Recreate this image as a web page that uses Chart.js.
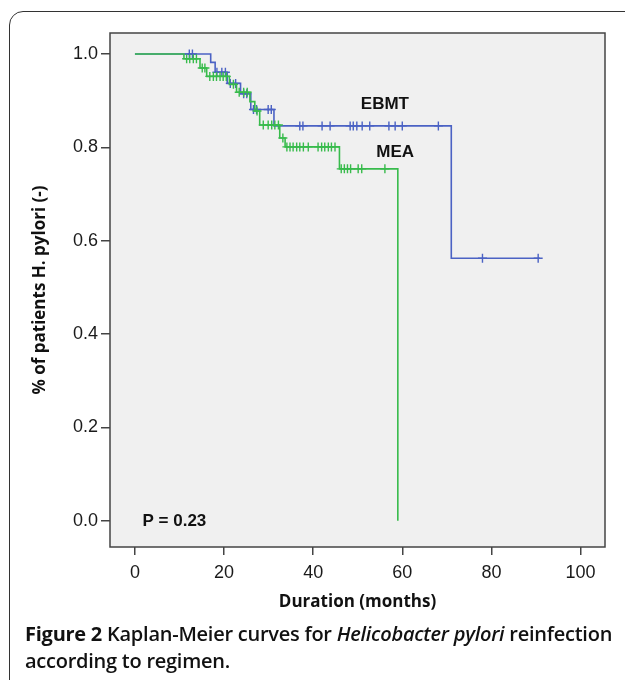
<!DOCTYPE html>
<html>
<head>
<meta charset="utf-8">
<script src="https://cdn.jsdelivr.net/npm/chart.js@4"></script>
<style>
  html, body { margin: 0; padding: 0; background: #fff; }
  body { width: 625px; height: 680px; position: relative; overflow: hidden; }
  #frame {
    position: absolute; left: 9px; top: 11px; width: 640px; height: 700px;
    border: 1.6px solid #333; border-radius: 14px; box-sizing: border-box;
  }
  #wrap { position: absolute; left: 0; top: 0; width: 625px; height: 625px; }
  #cap {
    position: absolute; left: 25px; top: 620px;
    font-family: "Open Sans", sans-serif; font-size: 20px; line-height: 27px;
    letter-spacing: -0.25px; font-weight: 600; color: #111; white-space: nowrap;
  }
  #cap b { font-weight: 700; }
</style>
</head>
<body>
<div id="frame"></div>
<div id="wrap"><canvas id="km"></canvas></div>
<div id="cap"><b>Figure 2</b> Kaplan-Meier curves for <i>Helicobacter pylori</i> reinfection<br>according to regimen.</div>
<script>
  // step points: time (months) where survival changes, and value after the step
  const ebmtTimes = [0, 17, 18, 20.7, 23.7, 26, 31.2, 71, 90.9];
  const ebmtSurv = [1.0, 0.982, 0.961, 0.937, 0.915, 0.881, 0.846, 0.5625, 0.5625];
  const ebmtCensored = [12.2, 12.9, 18.4, 19.5, 20.3, 21.4, 22.6, 24.4, 25.1, 26.6, 27.3,
    29.9, 30.6, 37, 37.7, 42, 43.8, 48.3, 49, 49.8, 51, 52.7, 57, 58.4, 60, 68.1, 78, 90.5];

  const meaTimes = [0, 11, 14.6, 16.1, 21.2, 22.8, 25.8, 26.9, 28, 32.5, 33.7, 45.9, 59];
  const meaSurv = [1.0, 0.99, 0.97, 0.952, 0.935, 0.918, 0.898, 0.878, 0.848, 0.82, 0.801, 0.754, 0];
  const meaCensored = [11.6, 12.3, 13.1, 13.8, 15.1, 15.7, 16.8, 17.6, 18.3, 19.1, 19.8, 20.5,
    22.1, 23.4, 24.4, 25.2, 27.4, 28.8, 29.9, 30.7, 31.4, 32.2, 33.2, 34.1, 34.8, 35.5, 36.3,
    37, 37.8, 38.9, 41.1, 41.9, 42.6, 43.4, 44.1, 44.9, 46.3, 47, 47.7, 48.4, 50.1, 50.9, 56.1];

  const xTicks = [0, 20, 40, 60, 80, 100];
  const yTicks = [0, 0.2, 0.4, 0.6, 0.8, 1.0];
  const pValue = 'P = 0.23';

  const BLUE = '#4b62c4';
  const GREEN = '#38bb4c';
  const AXIS = '#444';
  const SANS = '"Liberation Sans", Arial, sans-serif';

  function curve(times, surv) {
    return times.map((t, i) => ({ x: t, y: surv[i] }));
  }

  // survival value at time t (for placing censor marks on the curve)
  function stepAt(times, surv, t) {
    let v = surv[0];
    for (let i = 0; i < times.length; i++) {
      if (times[i] <= t) v = surv[i];
    }
    return v;
  }

  function censors(list, times, surv) {
    return list.map(t => ({ x: t, y: stepAt(times, surv, t) }));
  }

  const lineDefaults = { showLine: true, stepped: true, pointRadius: 0, borderWidth: 1.6, fill: false };
  const markDefaults = { showLine: false, pointStyle: 'cross', pointRadius: 4.5, borderWidth: 1.4 };

  const frame = {
    id: 'frame',
    beforeDraw(chart) {
      const a = chart.chartArea, ctx = chart.ctx;
      ctx.save();
      ctx.fillStyle = '#f0f0f0';
      ctx.fillRect(a.left, a.top, a.right - a.left, a.bottom - a.top);
      ctx.restore();
    },
    afterDraw(chart) {
      const a = chart.chartArea, ctx = chart.ctx;
      const x = chart.scales.x, y = chart.scales.y;
      ctx.save();
      ctx.strokeStyle = AXIS;
      ctx.lineWidth = 1.5;
      ctx.strokeRect(a.left, a.top, a.right - a.left, a.bottom - a.top);

      ctx.fillStyle = '#111';
      ctx.font = 'bold 17px ' + SANS;
      ctx.textBaseline = 'middle';
      ctx.textAlign = 'center';
      ctx.fillText('EBMT', x.getPixelForValue(56.1), y.getPixelForValue(0.893));
      ctx.fillText('MEA', x.getPixelForValue(58.4), y.getPixelForValue(0.79));
      ctx.textAlign = 'left';
      ctx.fillText(pValue, x.getPixelForValue(1.7), y.getPixelForValue(0));
      ctx.restore();
    }
  };

  new Chart(document.getElementById('km'), {
    type: 'scatter',
    data: {
      datasets: [
        Object.assign({ label: 'MEA censored', data: censors(meaCensored, meaTimes, meaSurv), borderColor: GREEN }, markDefaults),
        Object.assign({ label: 'MEA', data: curve(meaTimes, meaSurv), borderColor: GREEN }, lineDefaults),
        Object.assign({ label: 'EBMT censored', data: censors(ebmtCensored, ebmtTimes, ebmtSurv), borderColor: BLUE }, markDefaults),
        Object.assign({ label: 'EBMT', data: curve(ebmtTimes, ebmtSurv), borderColor: BLUE }, lineDefaults)
      ]
    },
    options: {
      responsive: true,
      maintainAspectRatio: false,
      animation: false,
      layout: { padding: { left: 0, top: 33, right: 20, bottom: 0 } },
      plugins: { legend: { display: false }, tooltip: { enabled: false } },
      scales: {
        x: {
          type: 'linear',
          min: -5.6,
          max: 105.5,
          afterBuildTicks: (s) => { s.ticks = xTicks.map(v => ({ value: v })); },
          afterFit: (s) => { s.height = 78; },
          grid: { drawOnChartArea: false, drawTicks: true, tickLength: 8, color: AXIS, lineWidth: 1.5 },
          border: { display: false },
          ticks: {
            padding: 7,
            color: '#1a1a1a',
            font: { family: SANS, size: 18 },
            maxRotation: 0
          },
          title: {
            display: true,
            text: 'Duration (months)',
            color: '#111',
            font: { family: '"Open Sans", sans-serif', size: 17, weight: 'bold' },
            padding: { top: 0, bottom: 13 }
          }
        },
        y: {
          type: 'linear',
          min: -0.056,
          max: 1.045,
          afterBuildTicks: (s) => { s.ticks = yTicks.map(v => ({ value: v })); },
          afterFit: (s) => { s.width = 110; },
          grid: { drawOnChartArea: false, drawTicks: true, tickLength: 9, color: AXIS, lineWidth: 1.5 },
          border: { display: false },
          ticks: {
            padding: 3,
            color: '#1a1a1a',
            font: { family: SANS, size: 18 },
            callback: (v) => Number(v).toFixed(1)
          },
          title: {
            display: true,
            text: '% of patients H. pylori (-)',
            color: '#111',
            font: { family: '"Open Sans", sans-serif', size: 17, weight: 'bold' },
            padding: { top: 30, bottom: 0 }
          }
        }
      }
    },
    plugins: [frame]
  });
</script>
</body>
</html>
